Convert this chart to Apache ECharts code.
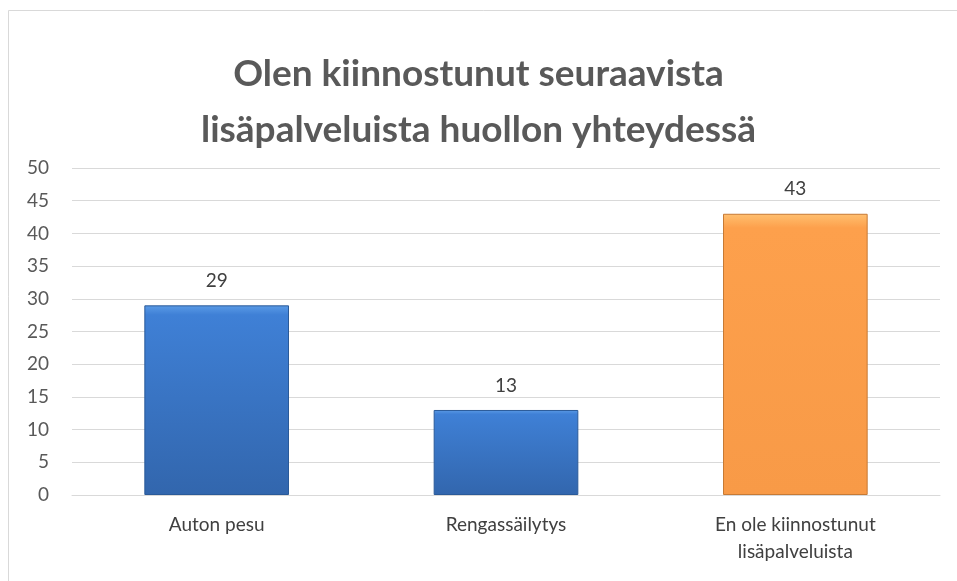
<!DOCTYPE html>
<html>
<head>
<meta charset="utf-8">
<script src="https://cdn.jsdelivr.net/npm/echarts@6/dist/echarts.min.js"></script>
<style>
    html, body { margin: 0; padding: 0; background: #fff; }
    #chart { width: 957px; height: 581px; }
</style>
</head>
<body>
<div id="chart"></div>
<script>
// kategoriat ja arvot
const categories = ['Auton pesu', 'Rengassäilytys', 'En ole kiinnostunut\nlisäpalveluista'];
const values = [29, 13, 43];
const titleText = 'Olen kiinnostunut seuraavista\nlisäpalveluista huollon yhteydessä';

const fontFam = 'Lato, "Open Sans", sans-serif';

function blueFill() {
    return new echarts.graphic.LinearGradient(0, 0, 0, 1, [
        { offset: 0, color: '#5b9be6' },
        { offset: 0.05, color: '#3f80d6' },
        { offset: 1, color: '#3266ad' }
    ]);
}
function orangeFill() {
    return new echarts.graphic.LinearGradient(0, 0, 0, 1, [
        { offset: 0, color: '#ffc070' },
        { offset: 0.05, color: '#fda04c' },
        { offset: 1, color: '#f89a47' }
    ]);
}

const barData = values.map((v, i) => ({
    value: v,
    itemStyle: i === 2
        ? { color: orangeFill(), borderColor: '#c77a34', borderWidth: 1 }
        : { color: blueFill(), borderColor: '#2a5a99', borderWidth: 1 }
}));

const chart = echarts.init(document.getElementById('chart'));
chart.setOption({
    animation: false,
    backgroundColor: '#fff',
    title: {
        text: titleText,
        left: 'center',
        top: 41,
        textStyle: {
            fontFamily: fontFam,
            fontSize: 37,
            fontWeight: 'bold',
            color: '#595959',
            lineHeight: 56
        }
    },
    graphic: [{
        type: 'rect',
        shape: { x: 8.5, y: 10.5, width: 1000, height: 600 },
        style: { fill: 'none', stroke: '#d9d9d9', lineWidth: 1 },
        silent: true
    }],
    grid: { left: 72, right: 17, top: 168, bottom: 86 },
    xAxis: {
        type: 'category',
        data: categories,
        axisTick: { show: false },
        axisLine: { lineStyle: { color: '#d9d9d9' } },
        axisLabel: {
            color: '#404040',
            fontFamily: fontFam,
            fontSize: 19,
            lineHeight: 27,
            margin: 16
        }
    },
    yAxis: {
        type: 'value',
        min: 0,
        max: 50,
        interval: 5,
        axisLine: { show: false },
        axisTick: { show: false },
        splitLine: { lineStyle: { color: '#d9d9d9', width: 1 } },
        axisLabel: {
            color: '#595959',
            fontFamily: fontFam,
            fontSize: 19,
            margin: 23
        }
    },
    series: [{
        type: 'bar',
        data: barData,
        barWidth: '50%',
        label: {
            show: true,
            position: 'top',
            distance: 15,
            color: '#404040',
            fontFamily: fontFam,
            fontSize: 19
        }
    }]
});
</script>
</body>
</html>
